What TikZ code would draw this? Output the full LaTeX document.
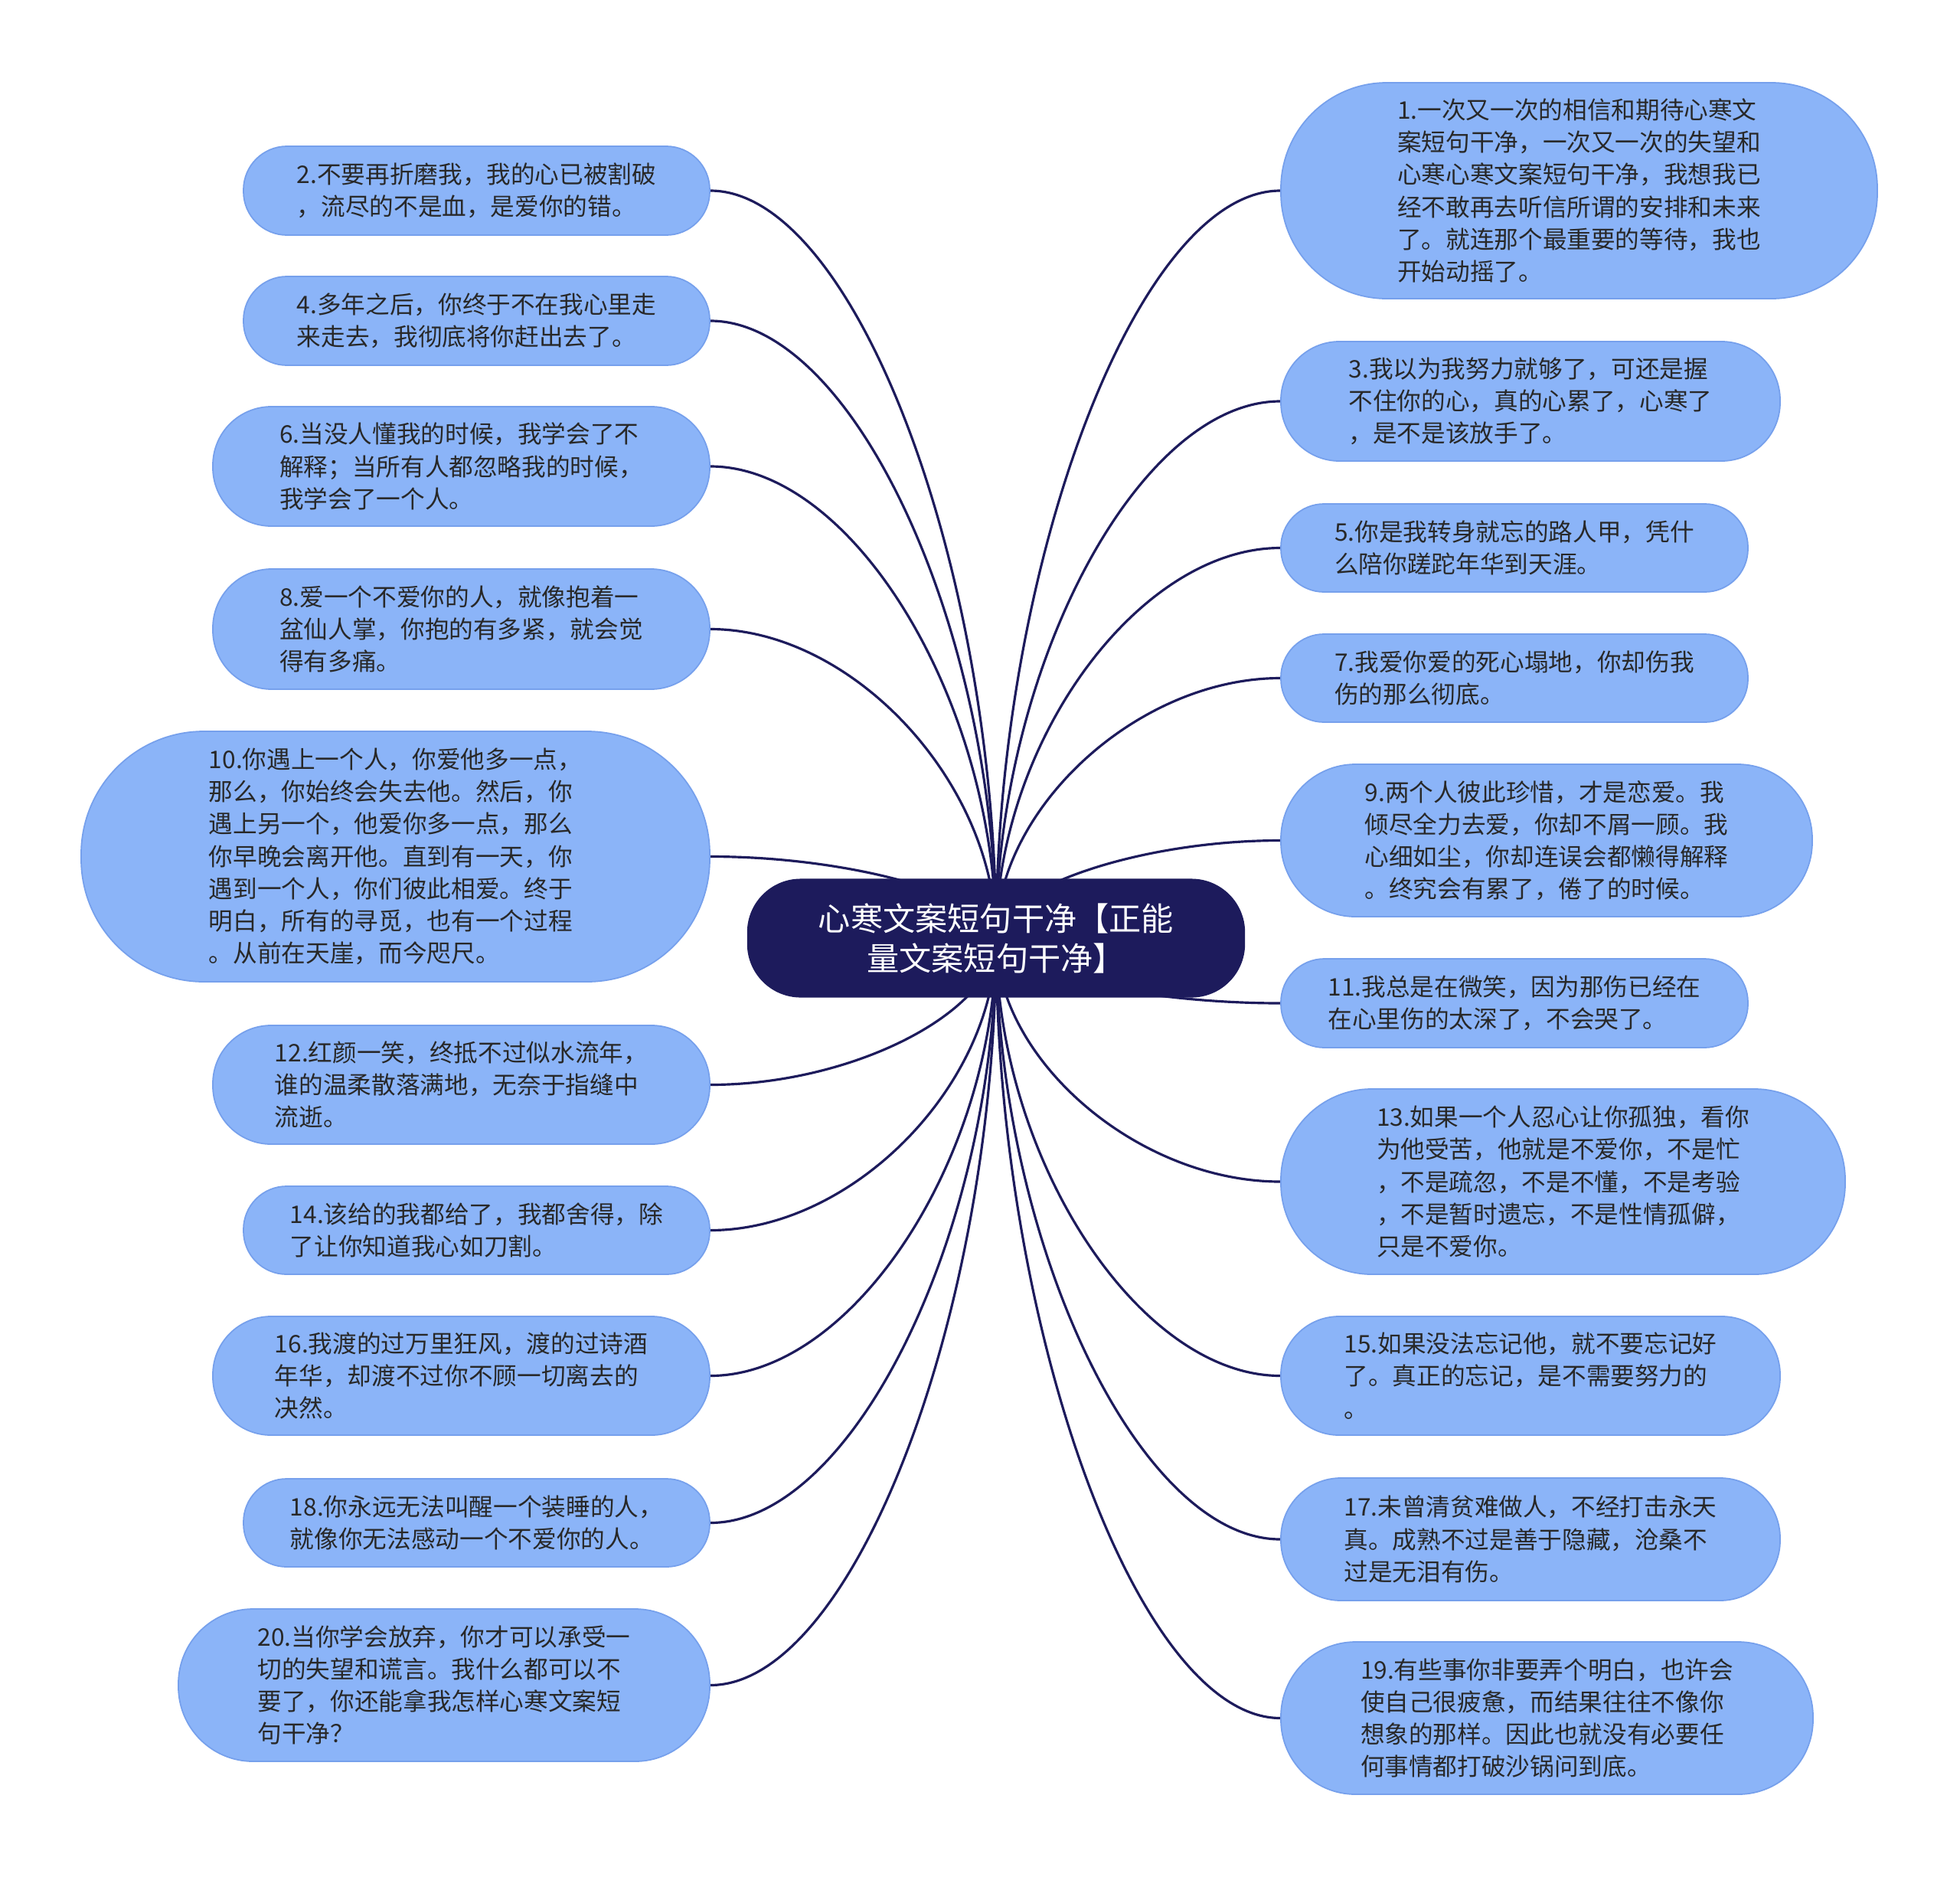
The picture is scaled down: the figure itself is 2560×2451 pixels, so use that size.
\documentclass[tikz,border=0pt]{standalone}
\usepackage{fontspec}
\setmainfont{Noto Sans CJK SC}
\usepackage{tikz}
\usetikzlibrary{calc,backgrounds}
\definecolor{rootnavy}{RGB}{29,27,92}
\definecolor{leafblue}{RGB}{139,180,248}
\definecolor{leafedge}{RGB}{118,160,236}
\definecolor{leaftext}{RGB}{40,40,40}
\tikzset{
    root/.style={rectangle, rounded corners=0.7cm, minimum width=6.5cm, minimum height=1.55cm, align=center, fill=rootnavy, text=white, font=\fontsize{12}{14.8}\selectfont, inner sep=0pt},
    leaf/.style 2 args={rectangle, rounded corners=#2*0.0049cm, minimum width=#1*0.01cm, minimum height=#2*0.01cm, align=left, fill=leafblue, draw=leafedge, line width=0.5pt, text=leaftext, font=\fontsize{9}{12}\selectfont, inner sep=0pt},
    branch/.style={draw=rootnavy, line width=0.9pt},
}
\begin{document}
\begin{tikzpicture}[x=0.01cm, y=-0.01cm]
  \useasboundingbox (0,0) rectangle (2560,2451);
  \node[root] (root) at (1301,1225) {心寒文案短句干净【正能\\量文案短句干净】};

  \node[leaf={609}{116}] (n2)  at (622.5,249)  {2.不要再折磨我，我的心已被割破\\，流尽的不是血，是爱你的错。};
  \node[leaf={609}{116}] (n4)  at (622.5,419)  {4.多年之后，你终于不在我心里走\\来走去，我彻底将你赶出去了。};
  \node[leaf={649}{156}] (n6)  at (602.5,609)  {6.当没人懂我的时候，我学会了不\\解释；当所有人都忽略我的时候，\\我学会了一个人。};
  \node[leaf={649}{157}] (n8)  at (602.5,821.5) {8.爱一个不爱你的人，就像抱着一\\盆仙人掌，你抱的有多紧，就会觉\\得有多痛。};
  \node[leaf={821}{327}] (n10) at (516.5,1118.5) {10.你遇上一个人，你爱他多一点，\\那么，你始终会失去他。然后，你\\遇上另一个，他爱你多一点，那么\\你早晚会离开他。直到有一天，你\\遇到一个人，你们彼此相爱。终于\\明白，所有的寻觅，也有一个过程\\。从前在天崖，而今咫尺。};
  \node[leaf={649}{155}] (n12) at (602.5,1416.5) {12.红颜一笑，终抵不过似水流年，\\谁的温柔散落满地，无奈于指缝中\\流逝。};
  \node[leaf={609}{115}] (n14) at (622.5,1606.5) {14.该给的我都给了，我都舍得，除\\了让你知道我心如刀割。};
  \node[leaf={649}{155}] (n16) at (602.5,1796.5) {16.我渡的过万里狂风，渡的过诗酒\\年华，却渡不过你不顾一切离去的\\决然。};
  \node[leaf={609}{115}] (n18) at (622.5,1988.5) {18.你永远无法叫醒一个装睡的人，\\就像你无法感动一个不爱你的人。};
  \node[leaf={694}{199}] (n20) at (580,2200.5) {20.当你学会放弃，你才可以承受一\\切的失望和谎言。我什么都可以不\\要了，你还能拿我怎样心寒文案短\\句干净？};

  \node[leaf={779}{282}] (n1)  at (2062.5,249) {1.一次又一次的相信和期待心寒文\\案短句干净，一次又一次的失望和\\心寒心寒文案短句干净，我想我已\\经不敢再去听信所谓的安排和未来\\了。就连那个最重要的等待，我也\\开始动摇了。};
  \node[leaf={652}{156}] (n3)  at (1999,524) {3.我以为我努力就够了，可还是握\\不住你的心，真的心累了，心寒了\\，是不是该放手了。};
  \node[leaf={610}{115}] (n5)  at (1978,715.5) {5.你是我转身就忘的路人甲，凭什\\么陪你蹉跎年华到天涯。};
  \node[leaf={610}{115}] (n7)  at (1978,885.5) {7.我爱你爱的死心塌地，你却伤我\\伤的那么彻底。};
  \node[leaf={694}{199}] (n9)  at (2020,1097.5) {9.两个人彼此珍惜，才是恋爱。我\\倾尽全力去爱，你却不屑一顾。我\\心细如尘，你却连误会都懒得解释\\。终究会有累了，倦了的时候。};
  \node[leaf={610}{116}] (n11) at (1978,1310) {11.我总是在微笑，因为那伤已经在\\在心里伤的太深了，不会哭了。};
  \node[leaf={737}{242}] (n13) at (2041.5,1543) {13.如果一个人忍心让你孤独，看你\\为他受苦，他就是不爱你，不是忙\\，不是疏忽，不是不懂，不是考验\\，不是暂时遗忘，不是性情孤僻，\\只是不爱你。};
  \node[leaf={652}{155}] (n15) at (1999,1796.5) {15.如果没法忘记他，就不要忘记好\\了。真正的忘记，是不需要努力的\\。};
  \node[leaf={652}{160}] (n17) at (1999,2010) {17.未曾清贫难做人，不经打击永天\\真。成熟不过是善于隐藏，沧桑不\\过是无泪有伤。};
  \node[leaf={695}{199}] (n19) at (2020.5,2243.5) {19.有些事你非要弄个明白，也许会\\使自己很疲惫，而结果往往不像你\\想象的那样。因此也就没有必要任\\何事情都打破沙锅问到底。};

  \begin{scope}[on background layer]
    \fill[white] (0,0) rectangle (2560,2451);
    \foreach \n in {n2,n4,n6,n8,n10,n12,n14,n16,n18,n20}
      \draw[branch] (root.center) .. controls ($(root.center)!0.5!(root.center |- \n.east)$) and ($(\n.east)!0.5!(root.center |- \n.east)$) .. (\n.east);
    \foreach \n in {n1,n3,n5,n7,n9,n11,n13,n15,n17,n19}
      \draw[branch] (root.center) .. controls ($(root.center)!0.5!(root.center |- \n.west)$) and ($(\n.west)!0.5!(root.center |- \n.west)$) .. (\n.west);
  \end{scope}
\end{tikzpicture}
\end{document}
